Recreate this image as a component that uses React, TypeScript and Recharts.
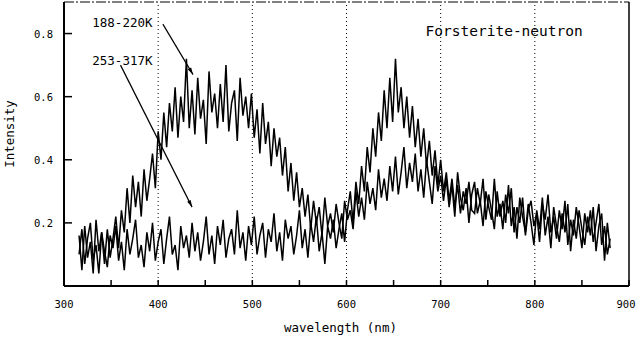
import React from 'react';
import {
  LineChart,
  Line,
  XAxis,
  YAxis,
  ReferenceLine,
  ReferenceDot,
} from 'recharts';

// sampling grid of the spectra (nm)
const WL_START = 316;
const WL_STEP = 3;

// 188-220K, blue band near 460 nm
const lowTemp = [
  0.16, 0.05, 0.19, 0.09, 0.14, 0.04, 0.21, 0.11, 0.17, 0.07,
  0.18, 0.09, 0.15, 0.22, 0.12, 0.24, 0.17, 0.31, 0.2, 0.35,
  0.25, 0.33, 0.22, 0.37, 0.27, 0.34, 0.42, 0.31, 0.49, 0.4,
  0.55, 0.44, 0.58, 0.49, 0.63, 0.47, 0.6, 0.52, 0.72, 0.5,
  0.62, 0.48, 0.66, 0.53, 0.59, 0.45, 0.68, 0.55, 0.61, 0.5,
  0.64, 0.52, 0.7, 0.49, 0.58, 0.62, 0.46, 0.66, 0.54, 0.6,
  0.5, 0.61, 0.47, 0.56, 0.42, 0.58, 0.45, 0.52, 0.38, 0.5,
  0.41, 0.47, 0.35, 0.44, 0.3, 0.39, 0.27, 0.36, 0.25, 0.31,
  0.22, 0.29, 0.18, 0.27, 0.2, 0.25, 0.16, 0.28, 0.19, 0.23,
  0.17, 0.26, 0.2, 0.15, 0.27, 0.21, 0.24, 0.18, 0.3, 0.22,
  0.28, 0.21, 0.33, 0.26, 0.31, 0.24, 0.37, 0.28, 0.34, 0.27,
  0.38, 0.3, 0.41, 0.29, 0.36, 0.44, 0.31, 0.39, 0.33, 0.42,
  0.3, 0.37, 0.28, 0.4, 0.33, 0.26, 0.38, 0.3, 0.35, 0.27,
  0.34, 0.25, 0.32, 0.22, 0.36, 0.28, 0.24, 0.31, 0.2, 0.29,
  0.33, 0.23, 0.27, 0.19, 0.3, 0.25, 0.21, 0.34, 0.22, 0.26,
  0.18, 0.29, 0.23, 0.31, 0.17, 0.25, 0.2, 0.28, 0.16, 0.24,
  0.27, 0.19, 0.23, 0.14, 0.26, 0.21, 0.29, 0.17, 0.22, 0.15,
  0.24, 0.18, 0.27, 0.13, 0.21, 0.16, 0.25, 0.19, 0.12, 0.23,
  0.17, 0.24, 0.14, 0.2, 0.26, 0.13, 0.19, 0.1, 0.15,
];

// 253-317K, red band near 655 nm
const highTemp = [
  0.1, 0.18, 0.07, 0.15, 0.2, 0.08, 0.13, 0.04, 0.17, 0.11,
  0.06, 0.16, 0.12, 0.19, 0.08, 0.14, 0.05, 0.18, 0.1, 0.15,
  0.21, 0.09, 0.13, 0.06, 0.17, 0.11, 0.2, 0.08, 0.14, 0.18,
  0.07, 0.15, 0.22, 0.1, 0.13, 0.05, 0.19, 0.12, 0.16, 0.09,
  0.2, 0.11, 0.17, 0.08, 0.14, 0.22, 0.1, 0.16, 0.07, 0.19,
  0.13, 0.21, 0.09, 0.15, 0.18, 0.1, 0.24, 0.12, 0.17, 0.08,
  0.19, 0.13, 0.22, 0.1, 0.16, 0.2, 0.09, 0.18, 0.14, 0.23,
  0.11, 0.17, 0.08, 0.21, 0.15, 0.19, 0.1, 0.16, 0.24, 0.12,
  0.18, 0.09, 0.2, 0.14, 0.22, 0.11, 0.17, 0.07, 0.19, 0.15,
  0.21, 0.12, 0.18, 0.23, 0.14, 0.24, 0.3, 0.2, 0.33, 0.26,
  0.38, 0.3, 0.44, 0.36, 0.5, 0.41, 0.55, 0.46, 0.62, 0.5,
  0.66, 0.52, 0.72, 0.55, 0.63, 0.5, 0.6, 0.47, 0.57, 0.44,
  0.53, 0.41, 0.5, 0.38, 0.46, 0.35, 0.43, 0.32, 0.4, 0.3,
  0.36, 0.27, 0.34, 0.25, 0.32, 0.23, 0.3, 0.26, 0.33, 0.24,
  0.23, 0.31, 0.26, 0.34, 0.21, 0.29, 0.24, 0.18, 0.3, 0.22,
  0.27, 0.2, 0.32, 0.19, 0.25, 0.15, 0.28, 0.22, 0.17, 0.26,
  0.2, 0.13, 0.24, 0.18, 0.28, 0.16, 0.22, 0.12, 0.25, 0.19,
  0.14, 0.23, 0.17, 0.26, 0.11, 0.21, 0.15, 0.24, 0.18, 0.13,
  0.22, 0.16, 0.25, 0.11, 0.19, 0.23, 0.08, 0.2, 0.12,
];

const xTicks = [300, 350, 400, 450, 500, 550, 600, 650, 700, 750, 800, 850, 900];
const yTicks = [0.2, 0.4, 0.6, 0.8];
const gridX = [400, 500, 600, 700, 800];

const FONT = '"DejaVu Sans Mono", monospace';

const data = lowTemp.map((v, i) => ({
  wl: WL_START + i * WL_STEP,
  low: v,
  high: highTemp[i],
}));

function XTick({ x, y, payload }: any) {
  const labelled = payload.value % 100 === 0;
  return (
    <g>
      <line x1={x} x2={x} y1={y} y2={y - 6} stroke="#000" strokeWidth={1.5} />
      {labelled && (
        <text
          x={Math.min(x, 626)}
          y={y + 22}
          textAnchor="middle"
          fontSize={10.5}
          fontFamily={FONT}
          fill="#000"
        >
          {payload.value}
        </text>
      )}
    </g>
  );
}

function YTick({ x, y, payload }: any) {
  return (
    <g>
      <line x1={x} x2={x + 8} y1={y} y2={y} stroke="#000" strokeWidth={1.5} />
      <text x={x - 11} y={y + 4} textAnchor="end" fontSize={10.5} fontFamily={FONT} fill="#000">
        {payload.value.toFixed(1)}
      </text>
    </g>
  );
}

function Arrow(props: any) {
  const { x1, y1, x2, y2 } = props;
  const dx = x2 - x1;
  const dy = y2 - y1;
  const len = Math.sqrt(dx * dx + dy * dy) || 1;
  const ux = dx / len;
  const uy = dy / len;
  const bx = x2 - ux * 7;
  const by = y2 - uy * 7;
  const head = `${x2},${y2} ${bx - uy * 2},${by + ux * 2} ${bx + uy * 2},${by - ux * 2}`;
  return (
    <g>
      <line x1={x1} y1={y1} x2={x2} y2={y2} stroke="#000" strokeWidth={1.2} />
      <polygon points={head} fill="#000" />
    </g>
  );
}

function noteLabel(text: string, size: number, anchor: 'start' | 'end') {
  return ({ viewBox }: any) => (
    <text
      x={viewBox.x}
      y={viewBox.y + size * 0.36}
      textAnchor={anchor}
      fontSize={size}
      fontFamily={FONT}
      fill="#000"
    >
      {text}
    </text>
  );
}

export default function App() {
  return (
    <div style={{ position: 'fixed', left: 0, top: 0, width: 636, height: 337, background: '#fff' }}>
      <LineChart
        width={636}
        height={337}
        data={data}
        margin={{ top: 2, right: 7, left: 0, bottom: 0 }}
      >
        <XAxis
          dataKey="wl"
          type="number"
          domain={[300, 900]}
          ticks={xTicks}
          interval={0}
          tick={<XTick />}
          tickLine={false}
          tickSize={0}
          tickMargin={0}
          height={51}
          axisLine={{ stroke: '#000', strokeWidth: 2 }}
          label={{
            content: ({ viewBox }: any) => (
              <text
                x={viewBox.x + viewBox.width / 2 - 6}
                y={viewBox.y + 46}
                textAnchor="middle"
                fontSize={12.5}
                fontFamily={FONT}
                fill="#000"
              >
                wavelength (nm)
              </text>
            ),
          }}
        />
        <YAxis
          type="number"
          domain={[0, 0.9]}
          ticks={yTicks}
          interval={0}
          tick={<YTick />}
          tickLine={false}
          tickSize={0}
          tickMargin={0}
          width={64}
          axisLine={{ stroke: '#000', strokeWidth: 2 }}
          label={{
            content: ({ viewBox }: any) => (
              <text
                x={0}
                y={0}
                transform={`translate(${viewBox.x + 14}, ${viewBox.y + 132}) rotate(-90)`}
                textAnchor="middle"
                fontSize={12.5}
                fontFamily={FONT}
                fill="#000"
              >
                Intensity
              </text>
            ),
          }}
        />
        {gridX.map((g) => (
          <ReferenceLine key={g} x={g} stroke="#000" strokeWidth={1} strokeDasharray="1 3" />
        ))}
        <ReferenceLine y={0.9} stroke="#000" strokeWidth={1} strokeDasharray="10 2 2 2" />
        <ReferenceLine x={900} stroke="#000" strokeWidth={1.5} />
        <Line
          type="linear"
          dataKey="low"
          stroke="#000"
          strokeWidth={1.5}
          dot={false}
          isAnimationActive={false}
        />
        <Line
          type="linear"
          dataKey="high"
          stroke="#000"
          strokeWidth={1.5}
          dot={false}
          isAnimationActive={false}
        />
        <ReferenceLine
          segment={[{ x: 405, y: 0.83 }, { x: 437, y: 0.67 }]}
          shape={<Arrow />}
        />
        <ReferenceLine
          segment={[{ x: 360, y: 0.7 }, { x: 436, y: 0.25 }]}
          shape={<Arrow />}
        />
        <ReferenceDot x={394} y={0.835} r={0} stroke="none" label={{ content: noteLabel('188-220K', 12.5, 'end') }} />
        <ReferenceDot x={394} y={0.715} r={0} stroke="none" label={{ content: noteLabel('253-317K', 12.5, 'end') }} />
        <ReferenceDot x={684} y={0.81} r={0} stroke="none" label={{ content: noteLabel('Forsterite-neutron', 14.5, 'start') }} />
      </LineChart>
    </div>
  );
}
